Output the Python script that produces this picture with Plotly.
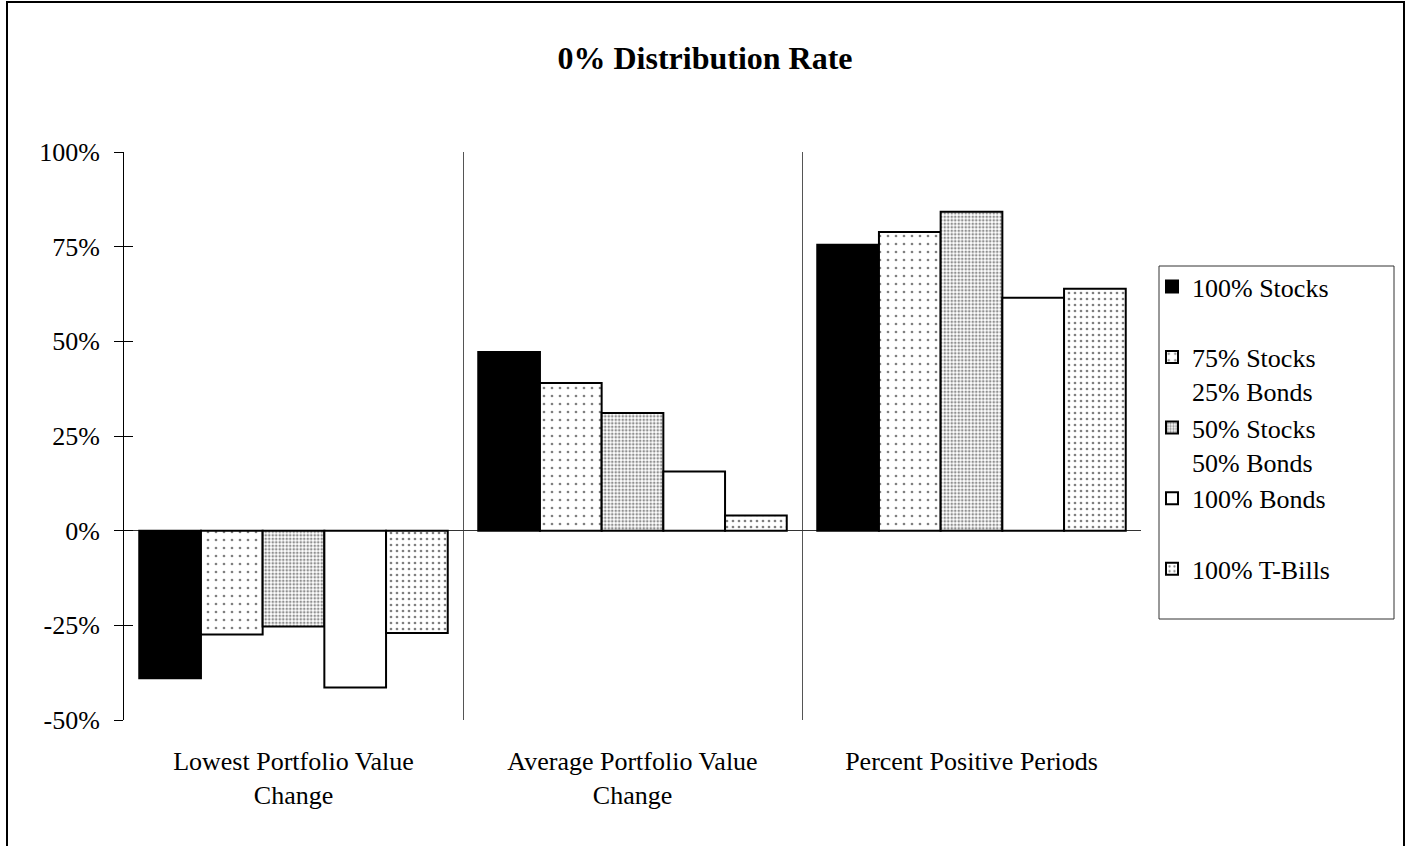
import plotly.graph_objects as go

# Category labels along the x axis
categories = [
    "Lowest Portfolio Value<br>Change",
    "Average Portfolio Value<br>Change",
    "Percent Positive Periods",
]

# Portfolio mixes (legend entries)
series_names = [
    "100% Stocks<br>\u00a0",
    "75% Stocks<br>25% Bonds",
    "50% Stocks<br>50% Bonds",
    "100% Bonds<br>\u00a0",
    "100% T-Bills<br>\u00a0",
]

# Values in percent, one per category
stocks_100 = [-39.0, 47.2, 75.5]
stocks_75_bonds_25 = [-27.4, 39.0, 78.9]
stocks_50_bonds_50 = [-25.3, 31.1, 84.2]
bonds_100 = [-41.4, 15.6, 61.5]
tbills_100 = [-27.0, 4.0, 63.9]

tick_vals = [-50, -25, 0, 25, 50, 75, 100]
tick_text = ["-50%", "-25%", "0%", "25%", "50%", "75%", "100%"]

series_values = [stocks_100, stocks_75_bonds_25, stocks_50_bonds_50, bonds_100, tbills_100]

# Fill styles for each mix
fills = [
    dict(color="black", pattern=None),
    dict(color="white", pattern=dict(shape=".", size=8, solidity=0.09, fgcolor="black", bgcolor="white", fillmode="overlay")),
    dict(color="white", pattern=dict(shape=".", size=3.5, solidity=0.45, fgcolor="#222222", bgcolor="white", fillmode="overlay")),
    dict(color="white", pattern=None),
    dict(color="white", pattern=dict(shape=".", size=6, solidity=0.16, fgcolor="black", bgcolor="white", fillmode="overlay")),
]

W, H = 1410, 846
ML, MR, MT, MB = 124, 269, 152, 126
PW, PH = W - ML - MR, H - MT - MB


def px_x(x):
    return (x - ML) / PW


def px_y(y):
    return (H - MB - y) / PH


FONT = "Liberation Serif, Times New Roman, serif"

fig = go.Figure()
for i, (name, vals, fill) in enumerate(zip(series_names, series_values, fills)):
    marker = dict(color=fill["color"], line=dict(color="black", width=2))
    if fill["pattern"] is not None:
        marker["pattern"] = fill["pattern"]
    fig.add_trace(go.Bar(
        x=categories, y=vals, name=name, marker=marker,
        legendgroup=f"g{i}",
    ))

# Overlay axis that supplies the inward half of the crossing y ticks
fig.add_trace(go.Scatter(x=[categories[0]], y=[0], yaxis="y2", mode="markers",
                         marker=dict(opacity=0), showlegend=False, hoverinfo="skip"))

fig.update_layout(
    width=W, height=H,
    margin=dict(l=ML, r=MR, t=MT, b=MB),
    paper_bgcolor="white", plot_bgcolor="white",
    font=dict(family=FONT, size=26, color="black"),
    barmode="group", bargap=0.09, bargroupgap=0,
    title=dict(text="<b>0% Distribution Rate</b>", x=0.5, xanchor="center",
               y=1 - 58 / H, yanchor="middle", yref="container",
               font=dict(family=FONT, size=32, color="black")),
    xaxis=dict(
        type="category", tickson="boundaries", showgrid=True,
        gridcolor="#555555", gridwidth=1, ticks="", showline=False,
        zeroline=False, ticklabelstandoff=23,
    ),
    yaxis=dict(
        range=[-50, 100], tickvals=tick_vals, ticktext=tick_text,
        ticks="outside", ticklen=9, tickcolor="black", tickwidth=1,
        showline=True, linecolor="black", linewidth=1,
        showgrid=False, zeroline=True, zerolinecolor="#333333", zerolinewidth=1,
        ticklabelstandoff=9,
    ),
    yaxis2=dict(
        overlaying="y", side="left", anchor="x", range=[-50, 100],
        tickvals=tick_vals, ticks="inside", ticklen=9, tickcolor="black",
        tickwidth=1, showticklabels=False, showgrid=False, zeroline=False,
        showline=False,
    ),
    legend=dict(
        x=px_x(1152), y=px_y(263), xanchor="left", yanchor="top",
        bgcolor="rgba(0,0,0,0)", borderwidth=0, tracegroupgap=0,
        valign="top", font=dict(family=FONT, size=26, color="black"),
        traceorder="normal",
    ),
    showlegend=True,
    shapes=[
        # legend frame
        dict(type="rect", xref="paper", yref="paper",
             x0=px_x(1159), x1=px_x(1394), y0=px_y(619), y1=px_y(266),
             line=dict(color="#333333", width=1), fillcolor="rgba(0,0,0,0)"),
        # outer chart frame
        dict(type="rect", xref="paper", yref="paper",
             x0=px_x(7), x1=px_x(1404), y0=px_y(870), y1=px_y(2),
             line=dict(color="black", width=2), fillcolor="rgba(0,0,0,0)"),
    ],
)

fig.write_html("out.html")
